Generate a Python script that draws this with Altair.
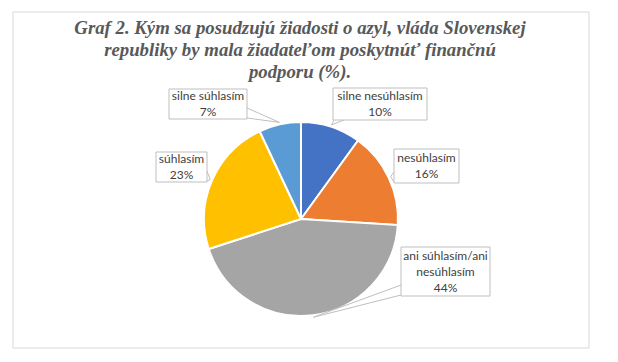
import math
import altair as alt
import pandas as pd

# ---- data ----
categories = ["silne nesúhlasím", "nesúhlasím", "ani súhlasím/ani nesúhlasím", "súhlasím", "silne súhlasím"]
values = [10, 16, 44, 23, 7]
label_texts = ["silne nesúhlasím\n10%", "nesúhlasím\n16%", "ani súhlasím/ani\nnesúhlasím\n44%", "súhlasím\n23%", "silne súhlasím\n7%"]
colors = ["#4472C4", "#ED7D31", "#A5A5A5", "#FFC000", "#5B9BD5"]
title_lines = [
    "Graf 2. Kým sa posudzujú žiadosti o azyl, vláda Slovenskej",
    "republiky by mala žiadateľom poskytnúť finančnú",
    "podporu (%).",
]

# ---- layout (chart pixel coordinates) ----
W, H = 602, 346
CX, CY, R = 293, 211, 97
# label boxes: (x0, y0, x1, y1)
boxes = [
    (325, 80, 419, 112),
    (386, 141, 451, 175),
    (393, 239, 482, 288),
    (148, 144, 199, 174),
    (161, 81, 239, 111),
]
LINE_H = 16

pie_df = pd.DataFrame({"cat": categories, "value": values, "idx": list(range(len(values)))})

# leader wedges computed from slice mid angles
total = sum(values)
cum = 0
wedge_rows, box_rows, text_rows = [], [], []
for i, (c, v) in enumerate(zip(categories, values)):
    mid = (cum + v / 2) / total * 2 * math.pi
    cum += v
    tx = CX + (R + 2) * math.sin(mid)
    ty = CY - (R + 2) * math.cos(mid)
    x0, y0, x1, y1 = boxes[i]
    dx = max(x0 - tx, tx - x1, 0)
    dy = max(y0 - ty, ty - y1, 0)
    if dx >= dy:
        bx = x0 if tx < x0 else x1
        by = min(max(ty, y0 + 6), y1 - 6)
        p1, p2 = (bx, by - 5), (bx, by + 5)
    else:
        by = y0 if ty < y0 else y1
        bx = min(max(tx, x0 + 6), x1 - 6)
        p1, p2 = (bx - 5, by), (bx + 5, by)
    for k, (px, py) in enumerate([p1, (tx, ty), p2]):
        wedge_rows.append({"cat": c, "k": k, "px": px, "py": py})
    box_rows.append({"cat": c, "x0": x0, "y0": y0, "x1": x1, "y1": y1})
    nlines = label_texts[i].count("\n") + 1
    text_rows.append({"cat": c, "label": label_texts[i], "px": (x0 + x1) / 2,
                      "py": (y0 + y1) / 2 - (nlines - 1) * LINE_H / 2})

wedge_df = pd.DataFrame(wedge_rows)
box_df = pd.DataFrame(box_rows)
text_df = pd.DataFrame(text_rows)
title_df = pd.DataFrame({"t": title_lines, "px": [292, 292, 292], "py": [26, 48, 70]})

border = alt.Chart(pd.DataFrame({"a": [0]})).mark_rect(
    fill="white", stroke="#D9D9D9", strokeWidth=1
).encode(x=alt.value(5), x2=alt.value(581), y=alt.value(4), y2=alt.value(340))

pie = alt.Chart(pie_df).mark_arc(radius=R, stroke="white", strokeWidth=2).encode(
    theta=alt.Theta("value:Q", stack=True),
    order=alt.Order("idx:Q"),
    color=alt.Color("cat:N", scale=alt.Scale(domain=categories, range=colors), legend=None),
    x=alt.value(CX),
    y=alt.value(CY),
)

wedges = alt.Chart(wedge_df).mark_line(color="#BFBFBF", strokeWidth=1).encode(
    x=alt.X("px:Q", scale=None, axis=None),
    y=alt.Y("py:Q", scale=None, axis=None),
    detail="cat:N",
    order="k:Q",
)

label_boxes = alt.Chart(box_df).mark_rect(fill="white", stroke="#BFBFBF", strokeWidth=1).encode(
    x=alt.X("x0:Q", scale=None, axis=None),
    x2="x1:Q",
    y=alt.Y("y0:Q", scale=None, axis=None),
    y2="y1:Q",
)

labels = alt.Chart(text_df).mark_text(
    font="Lato", fontSize=12, color="#404040", align="center", baseline="middle",
    lineBreak="\n", lineHeight=LINE_H,
).encode(
    x=alt.X("px:Q", scale=None, axis=None),
    y=alt.Y("py:Q", scale=None, axis=None),
    text="label:N",
)

title = alt.Chart(title_df).mark_text(
    font="Liberation Serif", fontSize=18.8, fontStyle="italic", fontWeight="bold",
    color="#595959", align="center", baseline="alphabetic",
).encode(
    x=alt.X("px:Q", scale=None, axis=None),
    y=alt.Y("py:Q", scale=None, axis=None),
    text="t:N",
)

chart = alt.layer(border, pie, wedges, label_boxes, labels, title).properties(
    width=W, height=H, padding=0, autosize="none"
).configure_view(stroke=None)

chart.save("out.html", embed_options={"renderer": "svg", "actions": False})
